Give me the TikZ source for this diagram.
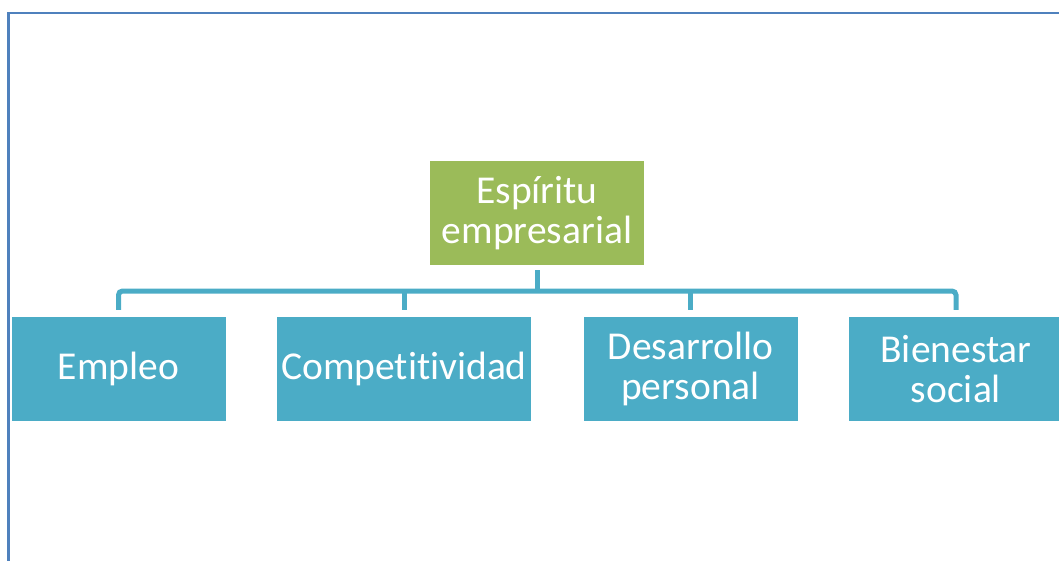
\documentclass[tikz,border=0pt]{standalone}
\usepackage{fontspec}
\setmainfont[Ligatures=NoCommon]{Carlito}
\definecolor{framecol}{HTML}{4F81BD}
\definecolor{rootcol}{HTML}{9BBB59}
\definecolor{leafcol}{HTML}{4BACC6}
\tikzset{
  boxtext/.style={
    rectangle,
    text=white,
    inner sep=0pt,
    align=center,
    minimum height=104pt,
    font=\fontsize{39.5}{40}\selectfont,
  },
  rootbox/.style={boxtext, fill=rootcol, minimum width=214pt},
  leafbox/.style={boxtext, fill=leafcol, minimum width=214pt},
  link/.style={draw=leafcol, line width=5pt, rounded corners=4pt},
}
\begin{document}
\begin{tikzpicture}[x=1pt, y=-1pt]
  \useasboundingbox (0,0) rectangle (1059,561);
  \clip (0,0) rectangle (1059,561);

  % outer frame, cut by the page edge
  \draw[framecol, line width=2.5pt] (8.5,13) rectangle (1090,590);

  \node[rootbox] (esp) at (537,213) {Espíritu\\empresarial};

  \node[leafbox] (empleo) at (118.5,369) {Empleo};
  \node[leafbox, minimum width=254pt] (compet) at (404,369) {Competitividad};
  \node[leafbox] (desarr) at (690.5,369) {Desarrollo\\personal};
  \node[leafbox] (bienes) at (956,369) {Bienestar\\social};

  \coordinate (bus) at (537,291);

  \draw[link, shorten <=7pt, shorten >=7pt] (empleo.north) |- (bus) -| (bienes.north);
  \draw[link, shorten <=5pt] (esp.south) -- (esp.south |- bus);
  \draw[link, shorten <=7pt] (compet.north) -- (compet.north |- bus);
  \draw[link, shorten <=7pt] (desarr.north) -- (desarr.north |- bus);
\end{tikzpicture}
\end{document}
